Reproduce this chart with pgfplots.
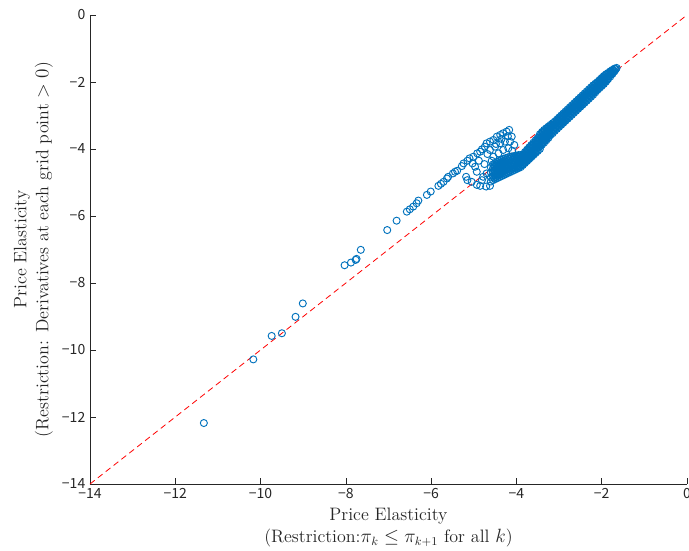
\documentclass[border=0pt]{standalone}
\usepackage{fontspec}
\usepackage{pgfplots}
\pgfplotsset{compat=1.18}
\newfontfamily\ticfont{Noto Sans CJK JP}
\definecolor{mblue}{rgb}{0,0.447,0.741}
\definecolor{agray}{rgb}{0.15,0.15,0.15}
\begin{document}
\begin{tikzpicture}
\begin{axis}[
  scale only axis, width=447.75pt, height=351.75pt,
  xmin=-14, xmax=0, ymin=-14, ymax=0,
  axis x line*=bottom, axis y line*=left,
  axis line style={agray, line width=0.5pt, -},
  tick align=inside, major tick length=4.5pt,
  tick style={agray, line width=0.5pt},
  xtick={-14,-12,-10,-8,-6,-4,-2,0},
  ytick={-14,-12,-10,-8,-6,-4,-2,0},
  xticklabels={−14,−12,−10,−8,−6,−4,−2,0},
  yticklabels={−14,−12,−10,−8,−6,−4,−2,0},
  ticklabel style={font=\ticfont\fontsize{10.5}{12}\selectfont, text=agray},
  xlabel={Price Elasticity\\(Restriction:$\pi_k \leq \pi_{k+1}$ for all $k$)},
  ylabel={Price Elasticity\\(Restriction: Derivatives at each grid point $> 0$)},
  label style={font=\fontsize{13.5}{16.5}\selectfont, align=center, text=agray},
  clip=false,
  scat/.style={only marks, mark=o, mark size=2.65pt, mark options={mblue, line width=0.7pt}},
]
\coordinate (SW) at (rel axis cs:0,0);
\coordinate (NE) at (rel axis cs:1,1);
\addplot[red, line width=0.6pt, dash pattern=on 4.5pt off 3pt] coordinates {(-14,-14) (0,0)};
\addplot[scat] coordinates {
(-11.33,-12.18) (-10.17,-10.28) (-9.74,-9.58) (-9.50,-9.50) (-9.18,-9.01) (-9.01,-8.61)
(-8.03,-7.47) (-7.88,-7.39) (-7.77,-7.31) (-7.75,-7.28) (-7.65,-7.01) (-7.03,-6.42) (-6.81,-6.14)
(-6.57,-5.87) (-6.50,-5.80) (-6.42,-5.72) (-6.34,-5.62) (-6.30,-5.54) (-6.10,-5.37) (-6.01,-5.27)
(-5.83,-5.10) (-5.77,-5.04) (-5.71,-4.98) (-5.63,-4.88) (-5.60,-4.83) (-5.49,-4.73) (-5.44,-4.68)
(-5.39,-4.65) (-5.28,-4.51) (-5.24,-4.43) (-5.15,-4.35) (-5.10,-4.28) (-5.01,-4.23) (-4.92,-4.13)
(-4.85,-4.08) (-4.81,-4.01) (-4.74,-3.93) (-4.70,-3.83) (-4.62,-3.78) (-4.54,-3.73) (-4.46,-3.63)
(-4.38,-3.58) (-4.31,-3.53) (-4.23,-3.48) (-4.17,-3.43)
(-4.62,-4.03) (-4.50,-3.93) (-4.38,-3.83) (-4.27,-3.78) (-4.15,-3.78) (-4.31,-4.03) (-4.19,-3.98)
(-4.54,-4.23) (-4.42,-4.13) (-4.11,-3.63) (-4.05,-3.88) (-4.10,-4.05) (-4.20,-3.62) (-4.48,-3.85)
(-4.35,-3.70) (-4.68,-4.15) (-4.58,-4.35)
(-5.18,-4.83) (-5.15,-4.93) (-5.05,-4.98) (-4.93,-5.07) (-4.85,-5.10) (-4.71,-5.12) (-4.62,-5.10)
(-4.93,-4.68) (-4.97,-4.53) (-5.03,-4.43) (-4.78,-4.83) (-4.70,-4.73) (-4.81,-4.93) (-4.88,-4.35)
(-4.75,-4.45)
(-1.65,-1.58) (-1.67,-1.62)
(-1.70,-1.60) (-1.70,-1.68)
(-1.75,-1.64) (-1.75,-1.70) (-1.75,-1.76)
(-1.80,-1.68) (-1.80,-1.76) (-1.80,-1.84)
(-1.85,-1.73) (-1.85,-1.82) (-1.85,-1.91)
(-1.90,-1.77) (-1.90,-1.85) (-1.90,-1.92) (-1.90,-1.99)
(-1.95,-1.82) (-1.95,-1.90) (-1.95,-1.98) (-1.95,-2.06)
(-2.00,-1.88) (-2.00,-1.96) (-2.00,-2.04) (-2.00,-2.12)
(-2.05,-1.94) (-2.05,-2.02) (-2.05,-2.10) (-2.05,-2.18)
(-2.10,-2.00) (-2.10,-2.08) (-2.10,-2.16) (-2.10,-2.24)
(-2.15,-2.05) (-2.15,-2.14) (-2.15,-2.22) (-2.15,-2.31)
(-2.20,-2.10) (-2.20,-2.19) (-2.20,-2.28) (-2.20,-2.38)
(-2.25,-2.16) (-2.25,-2.25) (-2.25,-2.34) (-2.25,-2.44)
(-2.30,-2.22) (-2.30,-2.31) (-2.30,-2.40) (-2.30,-2.50)
(-2.35,-2.28) (-2.35,-2.37) (-2.35,-2.46) (-2.35,-2.56)
(-2.40,-2.34) (-2.40,-2.43) (-2.40,-2.52) (-2.40,-2.62)
(-2.45,-2.40) (-2.45,-2.49) (-2.45,-2.58) (-2.45,-2.68)
(-2.50,-2.46) (-2.50,-2.55) (-2.50,-2.64) (-2.50,-2.74)
(-2.55,-2.52) (-2.55,-2.61) (-2.55,-2.70) (-2.55,-2.80)
(-2.60,-2.58) (-2.60,-2.67) (-2.60,-2.76) (-2.60,-2.86)
(-2.65,-2.64) (-2.65,-2.73) (-2.65,-2.82) (-2.65,-2.92)
(-2.70,-2.70) (-2.70,-2.79) (-2.70,-2.88) (-2.70,-2.98)
(-2.75,-2.76) (-2.75,-2.85) (-2.75,-2.94) (-2.75,-3.04)
(-2.80,-2.82) (-2.80,-2.91) (-2.80,-3.00) (-2.80,-3.10)
(-2.85,-2.88) (-2.85,-2.97) (-2.85,-3.06) (-2.85,-3.16)
(-2.90,-2.94) (-2.90,-3.03) (-2.90,-3.12) (-2.90,-3.22)
(-2.95,-3.00) (-2.95,-3.09) (-2.95,-3.18) (-2.95,-3.28)
(-3.00,-3.06) (-3.00,-3.15) (-3.00,-3.24) (-3.00,-3.34)
(-3.05,-3.12) (-3.05,-3.21) (-3.05,-3.30) (-3.05,-3.40)
(-3.10,-3.18) (-3.10,-3.27) (-3.10,-3.36) (-3.10,-3.46)
(-3.15,-3.23) (-3.15,-3.33) (-3.15,-3.43) (-3.15,-3.53)
(-3.20,-3.28) (-3.20,-3.38) (-3.20,-3.48) (-3.20,-3.58)
(-3.25,-3.33) (-3.25,-3.42) (-3.25,-3.51) (-3.25,-3.59) (-3.25,-3.67)
(-3.30,-3.38) (-3.30,-3.47) (-3.30,-3.56) (-3.30,-3.65) (-3.30,-3.74)
(-3.35,-3.43) (-3.35,-3.52) (-3.35,-3.62) (-3.35,-3.71) (-3.35,-3.81)
(-3.40,-3.49) (-3.40,-3.58) (-3.40,-3.68) (-3.40,-3.77) (-3.40,-3.87)
(-3.45,-3.56) (-3.45,-3.65) (-3.45,-3.74) (-3.45,-3.83) (-3.45,-3.92) (-3.45,-4.00)
(-3.50,-3.67) (-3.50,-3.77) (-3.50,-3.87) (-3.50,-3.97) (-3.50,-4.06)
(-3.55,-3.74) (-3.55,-3.84) (-3.55,-3.93) (-3.55,-4.03) (-3.55,-4.12)
(-3.60,-3.81) (-3.60,-3.90) (-3.60,-4.00) (-3.60,-4.09) (-3.60,-4.18)
(-3.65,-3.88) (-3.65,-3.97) (-3.65,-4.06) (-3.65,-4.15) (-3.65,-4.24)
(-3.70,-3.95) (-3.70,-4.04) (-3.70,-4.13) (-3.70,-4.22) (-3.70,-4.30)
(-3.75,-4.02) (-3.75,-4.11) (-3.75,-4.19) (-3.75,-4.28) (-3.75,-4.36)
(-3.80,-4.09) (-3.80,-4.17) (-3.80,-4.25) (-3.80,-4.34) (-3.80,-4.42)
(-3.85,-4.16) (-3.85,-4.24) (-3.85,-4.32) (-3.85,-4.40) (-3.85,-4.48)
(-3.90,-4.18) (-3.90,-4.27) (-3.90,-4.36) (-3.90,-4.45) (-3.90,-4.54)
(-3.95,-4.18) (-3.95,-4.28) (-3.95,-4.38) (-3.95,-4.48) (-3.95,-4.57)
(-4.00,-4.20) (-4.00,-4.30) (-4.00,-4.40) (-4.00,-4.50) (-4.00,-4.60)
(-4.05,-4.21) (-4.05,-4.32) (-4.05,-4.42) (-4.05,-4.53) (-4.05,-4.63)
(-4.10,-4.22) (-4.10,-4.33) (-4.10,-4.44) (-4.10,-4.55) (-4.10,-4.66)
(-4.15,-4.23) (-4.15,-4.35) (-4.15,-4.46) (-4.15,-4.58) (-4.15,-4.69)
(-4.20,-4.25) (-4.20,-4.37) (-4.20,-4.49) (-4.20,-4.60) (-4.20,-4.72)
(-4.25,-4.27) (-4.25,-4.39) (-4.25,-4.51) (-4.25,-4.63) (-4.25,-4.75)
(-4.30,-4.29) (-4.30,-4.41) (-4.30,-4.53) (-4.30,-4.66) (-4.30,-4.78)
(-4.35,-4.32) (-4.35,-4.44) (-4.35,-4.56) (-4.35,-4.69) (-4.35,-4.81)
(-4.40,-4.35) (-4.40,-4.47) (-4.40,-4.60) (-4.40,-4.72) (-4.40,-4.84)
(-4.45,-4.38) (-4.45,-4.50) (-4.45,-4.63) (-4.45,-4.75) (-4.45,-4.87)
(-4.50,-4.42) (-4.50,-4.54) (-4.50,-4.66) (-4.50,-4.78) (-4.50,-4.90)
(-4.55,-4.46) (-4.55,-4.58) (-4.55,-4.70) (-4.55,-4.82) (-4.55,-4.93)
(-4.60,-4.55) (-4.60,-4.70) (-4.60,-4.85) (-4.60,-4.97)
};
\addplot[scat] coordinates {
(-1.675,-1.61) (-1.725,-1.64) (-1.725,-1.70) (-1.775,-1.70) (-1.775,-1.76)
(-1.825,-1.75) (-1.825,-1.83)
(-1.875,-1.76) (-1.875,-1.85) (-1.875,-1.94)
(-1.925,-1.82) (-1.925,-1.91) (-1.925,-2.00)
(-1.975,-1.88) (-1.975,-1.97) (-1.975,-2.06)
(-2.025,-1.94) (-2.025,-2.03) (-2.025,-2.12)
(-2.075,-2.00) (-2.075,-2.09) (-2.075,-2.18)
(-2.125,-2.06) (-2.125,-2.15) (-2.125,-2.24)
(-2.175,-2.12) (-2.175,-2.21) (-2.175,-2.30)
(-2.225,-2.18) (-2.225,-2.27) (-2.225,-2.36)
(-2.275,-2.24) (-2.275,-2.33) (-2.275,-2.42)
(-2.325,-2.30) (-2.325,-2.39) (-2.325,-2.48)
(-2.375,-2.36) (-2.375,-2.45) (-2.375,-2.54)
(-2.425,-2.42) (-2.425,-2.51) (-2.425,-2.60)
(-2.475,-2.48) (-2.475,-2.57) (-2.475,-2.66)
(-2.525,-2.54) (-2.525,-2.63) (-2.525,-2.72)
(-2.575,-2.60) (-2.575,-2.69) (-2.575,-2.78)
(-2.625,-2.66) (-2.625,-2.75) (-2.625,-2.84)
(-2.675,-2.72) (-2.675,-2.81) (-2.675,-2.90)
(-2.725,-2.78) (-2.725,-2.87) (-2.725,-2.96)
(-2.775,-2.84) (-2.775,-2.93) (-2.775,-3.02)
(-2.825,-2.90) (-2.825,-2.99) (-2.825,-3.08)
(-2.875,-2.96) (-2.875,-3.05) (-2.875,-3.14)
(-2.925,-3.02) (-2.925,-3.11) (-2.925,-3.20)
(-2.975,-3.08) (-2.975,-3.17) (-2.975,-3.26)
(-3.025,-3.14) (-3.025,-3.23) (-3.025,-3.32)
(-3.075,-3.20) (-3.075,-3.29) (-3.075,-3.38)
(-3.125,-3.26) (-3.125,-3.35) (-3.125,-3.44)
(-3.175,-3.31) (-3.175,-3.41) (-3.175,-3.51)
(-3.225,-3.34) (-3.225,-3.43) (-3.225,-3.51) (-3.225,-3.60)
(-3.275,-3.39) (-3.275,-3.48) (-3.275,-3.57) (-3.275,-3.66)
(-3.325,-3.45) (-3.325,-3.54) (-3.325,-3.63) (-3.325,-3.72)
(-3.375,-3.50) (-3.375,-3.60) (-3.375,-3.70) (-3.375,-3.80)
(-3.425,-3.56) (-3.425,-3.66) (-3.425,-3.76) (-3.425,-3.86)
(-3.475,-3.66) (-3.475,-3.76) (-3.475,-3.85) (-3.475,-3.95)
(-3.525,-3.75) (-3.525,-3.85) (-3.525,-3.95) (-3.525,-4.05)
(-3.575,-3.82) (-3.575,-3.92) (-3.575,-4.01) (-3.575,-4.11)
(-3.625,-3.89) (-3.625,-3.98) (-3.625,-4.08) (-3.625,-4.17)
(-3.675,-3.96) (-3.675,-4.05) (-3.675,-4.14) (-3.675,-4.23)
(-3.725,-4.03) (-3.725,-4.12) (-3.725,-4.21) (-3.725,-4.29)
(-3.775,-4.10) (-3.775,-4.18) (-3.775,-4.27) (-3.775,-4.35)
(-3.825,-4.16) (-3.825,-4.25) (-3.825,-4.33) (-3.825,-4.41)
(-3.875,-4.21) (-3.875,-4.30) (-3.875,-4.38) (-3.875,-4.47)
(-3.925,-4.23) (-3.925,-4.32) (-3.925,-4.42) (-3.925,-4.51)
(-3.975,-4.24) (-3.975,-4.34) (-3.975,-4.44) (-3.975,-4.54)
(-4.025,-4.26) (-4.025,-4.36) (-4.025,-4.46) (-4.025,-4.57)
(-4.075,-4.27) (-4.075,-4.38) (-4.075,-4.49) (-4.075,-4.59)
(-4.125,-4.28) (-4.125,-4.40) (-4.125,-4.51) (-4.125,-4.62)
(-4.175,-4.30) (-4.175,-4.42) (-4.175,-4.53) (-4.175,-4.65)
(-4.225,-4.32) (-4.225,-4.44) (-4.225,-4.56) (-4.225,-4.68)
(-4.275,-4.34) (-4.275,-4.46) (-4.275,-4.58) (-4.275,-4.71)
(-4.325,-4.37) (-4.325,-4.49) (-4.325,-4.61) (-4.325,-4.74)
(-4.375,-4.40) (-4.375,-4.52) (-4.375,-4.64) (-4.375,-4.77)
(-4.425,-4.43) (-4.425,-4.55) (-4.425,-4.68) (-4.425,-4.80)
(-4.475,-4.46) (-4.475,-4.58) (-4.475,-4.71) (-4.475,-4.83)
(-4.525,-4.50) (-4.525,-4.62) (-4.525,-4.74) (-4.525,-4.86)
};
\end{axis}
\pgfresetboundingbox
\path ([shift={(-67.5pt,-49.5pt)}]SW) rectangle ([shift={(1.5pt,11.25pt)}]NE);
\end{tikzpicture}
\end{document}
